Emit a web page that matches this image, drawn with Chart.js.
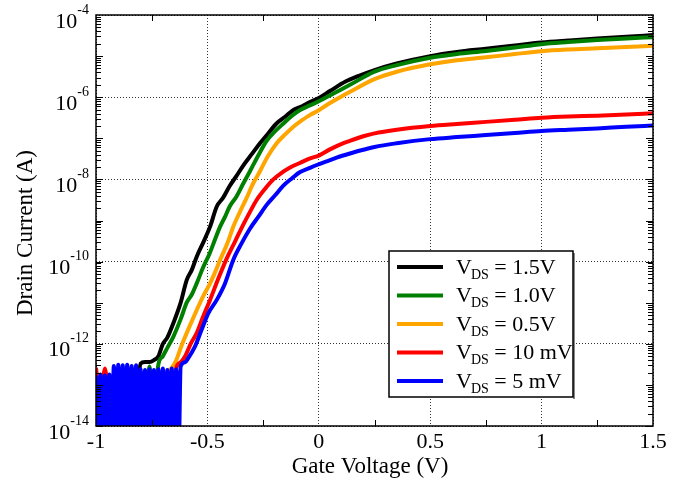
<!DOCTYPE html>
<html><head><meta charset="utf-8">
<script src="https://cdn.jsdelivr.net/npm/chart.js@4"></script>
<style>html,body{margin:0;padding:0;background:#fff;}#wrap{width:697px;height:482px;}</style>
</head><body><div id="wrap"><canvas id="c" width="697" height="482"></canvas></div>
<script>
// ---- axis ticks ----
const xTicks = [-1, -0.5, 0, 0.5, 1, 1.5];
const xTickLabels = ['-1', '-0.5', '0', '0.5', '1', '1.5'];
const yTicks = [1e-14, 1e-12, 1e-10, 1e-8, 1e-6, 1e-4];
const yTickExponents = ['-14', '-12', '-10', '-8', '-6', '-4'];
const xTitle = 'Gate Voltage (V)';
const yTitle = 'Drain Current (A)';
const seriesNames = ['1.5V', '1.0V', '0.5V', '10 mV', '5 mV'];
const seriesColors = ['#000000', '#008000', '#FFA500', '#FF0000', '#0000FF'];

// ---- noise floor (leakage floor near 1e-13 A) ----
const noiseV = [-1.00,-0.98,-0.96,-0.94,-0.92,-0.90,-0.88,-0.86,-0.84,-0.82,-0.80,-0.78,-0.76,-0.74,-0.72,-0.70,-0.68,-0.66,-0.64];
const blackNoiseI  = [1.5e-13,3e-14,1.5e-13,3e-14,1.6e-13,3e-14,1.6e-13,3e-14,1.6e-13,3e-14,3.3e-13,3.6e-13,3.6e-13];
const greenNoiseI  = [1.5e-13,3e-14,1.5e-13,3e-14,1.6e-13,3e-14,1.6e-13,3e-14,1.6e-13,3e-14,1.5e-13,3e-14,2.8e-13,3e-14];
const orangeNoiseI = [2.2e-13,3e-14,2.2e-13,3e-14,1.5e-13,3e-14,1.6e-13,3e-14,1.6e-13,3e-14,1.5e-13,3e-14,1.6e-13,3e-14,1.6e-13,3e-14,1.8e-13,2.6e-13];
const redNoiseI    = [2.6e-13,3e-14,2.5e-13,3e-14,1.5e-13,3e-14,1.6e-13,3e-14,1.6e-13,3e-14,1.5e-13,3e-14,1.6e-13,3e-14,1.6e-13,3e-14,1.8e-13,3e-14,2.6e-13];
const blueNoiseV = [-1.00,-0.99,-0.98,-0.97,-0.96,-0.95,-0.94,-0.93,-0.92,-0.91,-0.90,-0.89,-0.88,-0.87,-0.86,-0.85,-0.84,-0.83,-0.82,-0.81,-0.80,-0.79,-0.78,-0.77,-0.76,-0.75,-0.74,-0.73,-0.72,-0.71,-0.70,-0.69,-0.68,-0.67,-0.66,-0.65,-0.64,-0.63];
const blueNoiseI = [1.7e-13,1e-15,1.8e-13,1e-15,1.7e-13,1e-15,1.8e-13,1e-15,2.9e-13,1e-15,3.1e-13,1e-15,3e-13,1e-15,3.1e-13,1e-15,2.9e-13,1e-15,3e-13,1e-15,2.4e-13,1e-15,2.3e-13,1e-15,2.4e-13,1e-15,2.3e-13,1e-15,2.4e-13,1e-15,2.5e-13,1e-15,2.3e-13,1e-15,2.5e-13,1e-15,2.4e-13,1e-15];

// ---- transfer curves ----
const blackV = [-0.74,-0.72,-0.70,-0.68,-0.653,-0.62,-0.593,-0.57,-0.548,-0.52,-0.488,-0.458,-0.43,-0.40,-0.37,-0.34,-0.30,-0.264,-0.23,-0.19,-0.15,-0.114,-0.075,-0.04,0.0,0.05,0.12,0.18,0.25,0.35,0.5,0.62,0.75,0.88,1.0,1.12,1.25,1.38,1.5];
const blackI = [4.0e-13,5.0e-13,1.0e-12,1.41e-12,3.16e-12,1.0e-11,3.55e-11,6.3e-11,1.32e-10,2.82e-10,7.08e-10,2.19e-9,3.55e-9,6.92e-9,1.2e-8,2.14e-8,4.17e-8,7.59e-8,1.26e-7,2.29e-7,3.39e-7,4.9e-7,6.03e-7,7.59e-7,9.55e-7,1.41e-6,2.4e-6,3.31e-6,4.57e-6,6.61e-6,1.0e-5,1.26e-5,1.51e-5,1.82e-5,2.14e-5,2.4e-5,2.69e-5,2.95e-5,3.24e-5];
const greenV = [-0.72,-0.70,-0.68,-0.653,-0.62,-0.593,-0.57,-0.548,-0.52,-0.49,-0.465,-0.443,-0.42,-0.40,-0.37,-0.339,-0.309,-0.27,-0.234,-0.20,-0.159,-0.12,-0.084,-0.04,0.0,0.07,0.14,0.25,0.35,0.5,0.62,0.75,0.88,1.0,1.12,1.25,1.38,1.5];
const greenI = [3.16e-13,5.0e-13,7.94e-13,1.48e-12,3.98e-12,1.0e-11,1.58e-11,2.95e-11,7.08e-11,1.58e-10,3.55e-10,7.08e-10,1.26e-9,2.19e-9,3.8e-9,7.94e-9,1.58e-8,3.98e-8,8.71e-8,1.41e-7,2.29e-7,3.55e-7,4.9e-7,6.31e-7,7.94e-7,1.26e-6,2.0e-6,4.17e-6,6.03e-6,9.12e-6,1.12e-5,1.33e-5,1.62e-5,1.95e-5,2.19e-5,2.45e-5,2.69e-5,2.88e-5];
const orangeV = [-0.64,-0.62,-0.593,-0.57,-0.548,-0.52,-0.488,-0.465,-0.443,-0.41,-0.384,-0.355,-0.324,-0.295,-0.264,-0.23,-0.189,-0.15,-0.114,-0.075,-0.039,0.0,0.036,0.09,0.14,0.25,0.35,0.5,0.62,0.75,0.88,1.0,1.12,1.25,1.38,1.5];
const orangeI = [3.98e-13,7.94e-13,1.82e-12,3.55e-12,6.61e-12,1.41e-11,2.95e-11,5.62e-11,1.1e-10,2.82e-10,7.08e-10,1.58e-9,3.55e-9,7.94e-9,1.58e-8,3.55e-8,7.59e-8,1.26e-7,1.91e-7,2.75e-7,3.72e-7,4.79e-7,6.46e-7,9.55e-7,1.35e-6,2.75e-6,4.17e-6,6.31e-6,7.94e-6,9.33e-6,1.12e-5,1.32e-5,1.45e-5,1.55e-5,1.66e-5,1.78e-5];
const redV = [-0.62,-0.60,-0.575,-0.548,-0.52,-0.488,-0.45,-0.413,-0.375,-0.339,-0.31,-0.279,-0.24,-0.204,-0.17,-0.129,-0.085,-0.039,0.0,0.05,0.1,0.14,0.2,0.25,0.35,0.5,0.62,0.75,0.88,1.0,1.12,1.25,1.38,1.5];
const redI = [3.55e-13,5.0e-13,1.0e-12,1.82e-12,4.47e-12,1.17e-11,3.98e-11,1.2e-10,3.16e-10,7.94e-10,1.58e-9,3.16e-9,6.03e-9,1.0e-8,1.41e-8,1.95e-8,2.51e-8,3.24e-8,3.8e-8,5.37e-8,7.24e-8,8.71e-8,1.12e-7,1.32e-7,1.62e-7,2.0e-7,2.24e-7,2.51e-7,2.82e-7,3.16e-7,3.39e-7,3.55e-7,3.8e-7,4.07e-7];
const blueV = [-0.62,-0.60,-0.586,-0.556,-0.526,-0.496,-0.458,-0.421,-0.384,-0.346,-0.309,-0.27,-0.234,-0.195,-0.159,-0.12,-0.084,-0.04,-0.009,0.05,0.08,0.14,0.2,0.25,0.35,0.5,0.62,0.75,0.88,1.0,1.12,1.25,1.38,1.5];
const blueI = [2.82e-13,3.55e-13,4.47e-13,8.51e-13,2.19e-12,5.5e-12,1.17e-11,2.95e-11,1.1e-10,2.82e-10,6.31e-10,1.26e-9,2.4e-9,4.17e-9,7.08e-9,1.07e-8,1.51e-8,1.91e-8,2.24e-8,2.95e-8,3.39e-8,4.27e-8,5.25e-8,6.17e-8,7.59e-8,9.55e-8,1.07e-7,1.2e-7,1.35e-7,1.51e-7,1.62e-7,1.74e-7,1.91e-7,2.04e-7];

function pts(nv, ni, cv, ci) {
  const out = [];
  for (let i = 0; i < ni.length; i++) out.push({x: nv[i], y: ni[i]});
  for (let i = 0; i < ci.length; i++) out.push({x: cv[i], y: ci[i]});
  return out;
}
const seriesData = [
  pts(noiseV, blackNoiseI, blackV, blackI),
  pts(noiseV, greenNoiseI, greenV, greenI),
  pts(noiseV, orangeNoiseI, orangeV, orangeI),
  pts(noiseV, redNoiseI, redV, redI),
  pts(blueNoiseV, blueNoiseI, blueV, blueI)
];

const FONT = '"Liberation Serif", "Times New Roman", serif';

// datasets: index 0 is painted last (on top) -> blue first
const datasets = [];
for (let k = seriesData.length - 1; k >= 0; k--) {
  datasets.push({
    label: 'VDS = ' + seriesNames[k],
    data: seriesData[k],
    borderColor: seriesColors[k],
    backgroundColor: seriesColors[k],
    borderWidth: 4,
    pointRadius: 0,
    cubicInterpolationMode: 'monotone',
    borderJoinStyle: 'round',
    fill: false
  });
}

const decorPlugin = {
  id: 'decor',
  afterDatasetsDraw(chart) {
    const ctx = chart.ctx, a = chart.chartArea;
    const xs = chart.scales.x, ys = chart.scales.y;
    ctx.save();
    ctx.strokeStyle = '#000';
    ctx.lineWidth = 1;
    // y minor/major ticks (inward, both sides)
    for (let e = -14; e < -4; e++) {
      for (let m = 1; m <= 9; m++) {
        const v = m * Math.pow(10, e);
        const py = Math.round(ys.getPixelForValue(v)) + 0.5;
        const len = (m === 1) ? 7 : 5;
        ctx.beginPath();
        ctx.moveTo(a.left, py); ctx.lineTo(a.left + len, py);
        ctx.moveTo(a.right, py); ctx.lineTo(a.right - len, py);
        ctx.stroke();
      }
    }
    // x minor ticks at odd quarters (inward, top and bottom)
    for (let i = 0; i < xTicks.length - 1; i++) {
      const v = (xTicks[i] + xTicks[i + 1]) / 2;
      const px = Math.round(xs.getPixelForValue(v)) + 0.5;
      ctx.beginPath();
      ctx.moveTo(px, a.bottom); ctx.lineTo(px, a.bottom - 6);
      ctx.moveTo(px, a.top); ctx.lineTo(px, a.top + 6);
      ctx.stroke();
    }
    // frame
    ctx.lineWidth = 1.5;
    ctx.strokeRect(a.left, a.top, a.right - a.left, a.bottom - a.top);
    ctx.restore();

    // tick labels
    ctx.save();
    ctx.fillStyle = '#000';
    ctx.textBaseline = 'alphabetic';
    ctx.font = '22px ' + FONT;
    ctx.textAlign = 'center';
    xTicks.forEach((v, i) => {
      ctx.fillText(xTickLabels[i], xs.getPixelForValue(v), a.bottom + 22);
    });
    ctx.textAlign = 'left';
    yTicks.forEach((v, i) => {
      const py = ys.getPixelForValue(v);
      ctx.font = '14px ' + FONT;
      const sw = ctx.measureText(yTickExponents[i]).width;
      ctx.font = '22px ' + FONT;
      const mw = ctx.measureText('10').width;
      const right = a.left - 7;
      ctx.fillText('10', right - sw - mw, py + 12.5);
      ctx.font = '14px ' + FONT;
      ctx.fillText(yTickExponents[i], right - sw, py - 1.5);
    });
    ctx.font = '23px ' + FONT;
    ctx.textAlign = 'center';
    ctx.fillText(xTitle, 370, 473);
    ctx.translate(26, 233);
    ctx.rotate(-Math.PI / 2);
    ctx.textBaseline = 'middle';
    ctx.fillText(yTitle, 0, 0);
    ctx.restore();

    // legend
    ctx.save();
    const L = 389, T = 251, W = 184, H = 146;
    ctx.fillStyle = '#fff';
    ctx.fillRect(L, T, W, H);
    ctx.fillStyle = '#888';
    ctx.fillRect(L + W, T + 2, 2, H);
    ctx.strokeStyle = '#000';
    ctx.lineWidth = 1.5;
    ctx.strokeRect(L, T, W, H);
    const rowY = [267, 295.5, 324, 352.5, 381];
    for (let k = 0; k < seriesNames.length; k++) {
      const y = rowY[k];
      ctx.strokeStyle = seriesColors[k];
      ctx.lineWidth = 4;
      ctx.beginPath(); ctx.moveTo(397, y); ctx.lineTo(443, y); ctx.stroke();
      ctx.fillStyle = '#000';
      ctx.textAlign = 'left';
      ctx.textBaseline = 'alphabetic';
      let x = 456;
      ctx.font = '22px ' + FONT;
      ctx.fillText('V', x, y + 6.5);
      x += ctx.measureText('V').width - 1;
      ctx.font = '14px ' + FONT;
      ctx.fillText('DS', x, y + 11.5);
      x += ctx.measureText('DS').width;
      ctx.font = '22px ' + FONT;
      ctx.fillText(' = ' + seriesNames[k], x, y + 6.5);
    }
    ctx.restore();
  }
};

new Chart(document.getElementById('c'), {
  type: 'line',
  data: { datasets },
  options: {
    responsive: false,
    animation: false,
    events: [],
    layout: { padding: { left: 96, right: 44, top: 15, bottom: 56 } },
    plugins: { legend: { display: false }, tooltip: { enabled: false } },
    scales: {
      x: {
        type: 'linear', min: -1, max: 1.5,
        afterBuildTicks: s => { s.ticks = xTicks.map(v => ({ value: v })); },
        ticks: { display: false },
        grid: { drawTicks: false, color: 'rgba(0,0,0,0.8)', lineWidth: 1 },
        border: { display: false, dash: [1, 2] }
      },
      y: {
        type: 'logarithmic', min: 1e-14, max: 1e-4,
        afterBuildTicks: s => { s.ticks = yTicks.map(v => ({ value: v })); },
        ticks: { display: false },
        grid: { drawTicks: false, color: 'rgba(0,0,0,0.8)', lineWidth: 1 },
        border: { display: false, dash: [1, 2] }
      }
    }
  },
  plugins: [decorPlugin]
});
</script>
</body></html>
